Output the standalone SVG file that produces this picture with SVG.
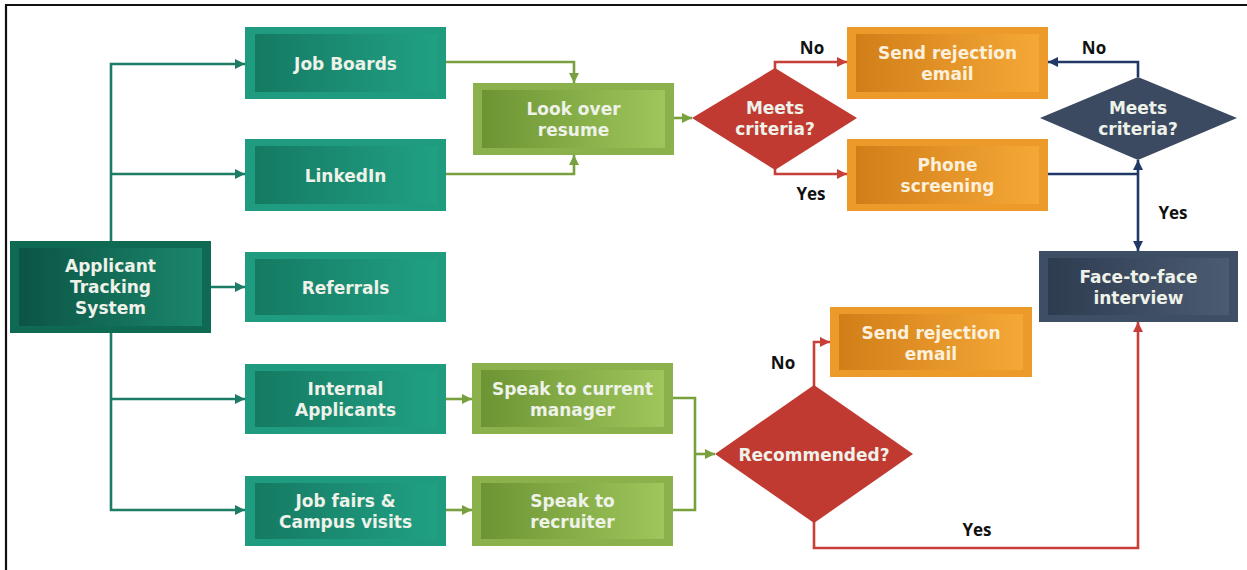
<svg xmlns="http://www.w3.org/2000/svg" width="1247" height="570" viewBox="0 0 1247 570">
<defs>
<linearGradient id="gTeal" x1="0" y1="0" x2="1" y2="0"><stop offset="0" stop-color="#157a62"/><stop offset="1" stop-color="#21a084"/></linearGradient>
<linearGradient id="gAts" x1="0" y1="0" x2="1" y2="0"><stop offset="0" stop-color="#0c5444"/><stop offset="1" stop-color="#1a866b"/></linearGradient>
<linearGradient id="gLime" x1="0" y1="0" x2="1" y2="0"><stop offset="0" stop-color="#6c9433"/><stop offset="1" stop-color="#9fc65c"/></linearGradient>
<linearGradient id="gOrange" x1="0" y1="0" x2="1" y2="0"><stop offset="0" stop-color="#d17e18"/><stop offset="1" stop-color="#f5a837"/></linearGradient>
<linearGradient id="gSlate" x1="0" y1="0" x2="1" y2="0"><stop offset="0" stop-color="#2e3c50"/><stop offset="1" stop-color="#4b5b71"/></linearGradient>
<marker id="aTeal" viewBox="0 0 10 10" refX="10" refY="5" markerWidth="4" markerHeight="4" orient="auto-start-reverse" markerUnits="strokeWidth"><path d="M0,0 L10,5 L0,10 z" fill="#1d7c65"/></marker>
<marker id="aLime" viewBox="0 0 10 10" refX="10" refY="5" markerWidth="4" markerHeight="4" orient="auto-start-reverse" markerUnits="strokeWidth"><path d="M0,0 L10,5 L0,10 z" fill="#78a03e"/></marker>
<marker id="aRed" viewBox="0 0 10 10" refX="10" refY="5" markerWidth="4" markerHeight="4" orient="auto-start-reverse" markerUnits="strokeWidth"><path d="M0,0 L10,5 L0,10 z" fill="#c83f38"/></marker>
<marker id="aNavy" viewBox="0 0 10 10" refX="10" refY="5" markerWidth="4" markerHeight="4" orient="auto-start-reverse" markerUnits="strokeWidth"><path d="M0,0 L10,5 L0,10 z" fill="#1f3866"/></marker>
</defs>
<style>
.lbl{font-family:"DejaVu Sans","Liberation Sans",sans-serif;font-weight:700;font-size:17px;fill:#eef2e9;text-anchor:middle}
.lblo{fill:#fcf0dc}
.yn{font-family:"Open Sans","Liberation Sans",sans-serif;font-weight:700;font-size:17px;fill:#111;text-anchor:middle}
.teal{fill:#1f9c80}
.ats{fill:#0f6a53}
.lime{fill:#8ab14c}
.orange{fill:#ec9b2b}
.slate{fill:#3e4e64}
.c{fill:none;stroke-width:2.6}
.ct{stroke:#1d7c65}
.cl{stroke:#78a03e}
.cr{stroke:#c83f38}
.cn{stroke:#1f3866}
</style>
<rect x="0" y="0" width="1247" height="570" fill="#ffffff"/>
<path d="M5,5 H1247 M6,5 V570" stroke="#111" stroke-width="2.2" fill="none"/>

<g id="connectors">
<path class="c ct" d="M111,241 V64 H245" marker-end="url(#aTeal)"/>
<path class="c ct" d="M111,174 H245" marker-end="url(#aTeal)"/>
<path class="c ct" d="M211,287 H245" marker-end="url(#aTeal)"/>
<path class="c ct" d="M111,333 V510 H245" marker-end="url(#aTeal)"/>
<path class="c ct" d="M111,399 H245" marker-end="url(#aTeal)"/>
<path class="c cl" d="M446,62 H574 V83" marker-end="url(#aLime)"/>
<path class="c cl" d="M446,174 H574 V155" marker-end="url(#aLime)"/>
<path class="c cl" d="M674,118 H692" marker-end="url(#aLime)"/>
<path class="c cl" d="M446,399 H472" marker-end="url(#aLime)"/>
<path class="c cl" d="M446,510 H472" marker-end="url(#aLime)"/>
<path class="c cl" d="M673,398 H695 V510 H673"/>
<path class="c cl" d="M695,454 H715" marker-end="url(#aLime)"/>
<path class="c cr" d="M775,69 V62 H847" marker-end="url(#aRed)"/>
<path class="c cr" d="M775,169 V174 H847" marker-end="url(#aRed)"/>
<path class="c cr" d="M814,386 V342 H830" marker-end="url(#aRed)"/>
<path class="c cr" d="M814,522 V548 H1138 V322" marker-end="url(#aRed)"/>
<path class="c cn" d="M1138,77 V62 H1048" marker-end="url(#aNavy)"/>
<path class="c cn" d="M1048,174 H1138"/>
<path class="c cn" d="M1138,251 V160" marker-start="url(#aNavy)" marker-end="url(#aNavy)"/>
</g>

<g id="ats">
<rect class="ats" x="10" y="241" width="201" height="92"/>
<rect x="19" y="248" width="183" height="78" fill="url(#gAts)"/>
<text class="lbl" x="110.5" y="272">Applicant</text>
<text class="lbl" x="110.5" y="293">Tracking</text>
<text class="lbl" x="110.5" y="314">System</text>
</g>

<g id="job-boards">
<rect class="teal" x="245" y="27" width="201" height="72"/>
<rect x="255" y="34" width="182" height="58" fill="url(#gTeal)"/>
<text class="lbl" x="345.5" y="70">Job Boards</text>
</g>

<g id="linkedin">
<rect class="teal" x="245" y="139" width="201" height="72"/>
<rect x="255" y="146" width="182" height="58" fill="url(#gTeal)"/>
<text class="lbl" x="345.5" y="182">LinkedIn</text>
</g>

<g id="referrals">
<rect class="teal" x="245" y="252" width="201" height="70"/>
<rect x="255" y="259" width="182" height="56" fill="url(#gTeal)"/>
<text class="lbl" x="345.5" y="294">Referrals</text>
</g>

<g id="internal">
<rect class="teal" x="245" y="364" width="201" height="70"/>
<rect x="255" y="371" width="182" height="56" fill="url(#gTeal)"/>
<text class="lbl" x="345.5" y="395">Internal</text>
<text class="lbl" x="345.5" y="416">Applicants</text>
</g>

<g id="job-fairs">
<rect class="teal" x="245" y="476" width="201" height="70"/>
<rect x="255" y="483" width="182" height="56" fill="url(#gTeal)"/>
<text class="lbl" x="345.5" y="507">Job fairs &amp;</text>
<text class="lbl" x="345.5" y="528">Campus visits</text>
</g>

<g id="look-over">
<rect class="lime" x="473" y="83" width="201" height="72"/>
<rect x="482" y="90" width="183" height="58" fill="url(#gLime)"/>
<text class="lbl" x="573.5" y="115">Look over</text>
<text class="lbl" x="573.5" y="136">resume</text>
</g>

<g id="meets1">
<polygon points="692,118 775,68 857,118 775,170" fill="#c13a31"/>
<text class="lbl" x="775" y="114">Meets</text>
<text class="lbl" x="775" y="135">criteria?</text>
</g>

<g id="reject1">
<rect class="orange" x="847" y="27" width="201" height="72"/>
<rect x="856" y="34" width="183" height="58" fill="url(#gOrange)"/>
<text class="lbl lblo" x="947.5" y="59">Send rejection</text>
<text class="lbl lblo" x="947.5" y="80">email</text>
</g>

<g id="phone">
<rect class="orange" x="847" y="139" width="201" height="72"/>
<rect x="856" y="146" width="183" height="58" fill="url(#gOrange)"/>
<text class="lbl lblo" x="947.5" y="171">Phone</text>
<text class="lbl lblo" x="947.5" y="192">screening</text>
</g>

<g id="meets2">
<polygon points="1040,118 1138,77 1237,118 1138,160" fill="#3b4a60"/>
<text class="lbl" x="1138" y="114">Meets</text>
<text class="lbl" x="1138" y="135">criteria?</text>
</g>

<g id="face">
<rect class="slate" x="1039" y="251" width="199" height="71"/>
<rect x="1048" y="258" width="181" height="57" fill="url(#gSlate)"/>
<text class="lbl" x="1138.5" y="283">Face-to-face</text>
<text class="lbl" x="1138.5" y="304">interview</text>
</g>

<g id="manager">
<rect class="lime" x="472" y="363" width="201" height="71"/>
<rect x="481" y="370" width="183" height="57" fill="url(#gLime)"/>
<text class="lbl" x="572.5" y="395">Speak to current</text>
<text class="lbl" x="572.5" y="416">manager</text>
</g>

<g id="recruiter">
<rect class="lime" x="472" y="476" width="201" height="70"/>
<rect x="481" y="483" width="183" height="56" fill="url(#gLime)"/>
<text class="lbl" x="572.5" y="507">Speak to</text>
<text class="lbl" x="572.5" y="528">recruiter</text>
</g>

<g id="recommended">
<polygon points="715,454 814,385 913,454 814,523" fill="#c13a31"/>
<text class="lbl" x="814" y="461">Recommended?</text>
</g>

<g id="reject2">
<rect class="orange" x="830" y="307" width="202" height="70"/>
<rect x="839" y="314" width="184" height="56" fill="url(#gOrange)"/>
<text class="lbl lblo" x="931" y="339">Send rejection</text>
<text class="lbl lblo" x="931" y="360">email</text>
</g>

<g id="labels">
<text class="yn" x="812" y="54">No</text>
<text class="yn" x="811" y="200">Yes</text>
<text class="yn" x="1094" y="54">No</text>
<text class="yn" x="1173" y="219">Yes</text>
<text class="yn" x="783" y="369">No</text>
<text class="yn" x="977" y="536">Yes</text>
</g>
</svg>
